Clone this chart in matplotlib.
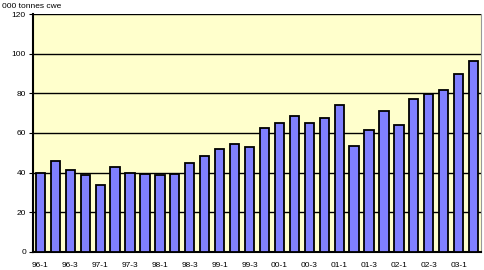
import matplotlib
matplotlib.use("Agg")
import matplotlib.pyplot as plt
import numpy as np

plt.rcParams['font.family'] = ['Liberation Sans', 'DejaVu Sans']

quarters = ["96-1", "96-2", "96-3", "96-4", "97-1", "97-2", "97-3", "97-4",
            "98-1", "98-2", "98-3", "98-4", "99-1", "99-2", "99-3", "99-4",
            "00-1", "00-2", "00-3", "00-4", "01-1", "01-2", "01-3", "01-4",
            "02-1", "02-2", "02-3", "02-4", "03-1", "03-2"]
values = [40, 46, 41.5, 38.6, 33.6, 42.8, 39.8, 39.1, 38.6, 39.1,
          45, 48.5, 52, 54.5, 53, 62.5, 65, 68.7, 65, 67.6,
          74, 53.6, 61.5, 71, 64, 77, 79.8, 81.8, 89.6, 96.4]

fig = plt.figure(figsize=(4.84, 2.70), dpi=100)
ax = fig.add_axes([0.068, 0.067, 0.926, 0.881])
ax.set_facecolor("#FFFFCC")

x = np.arange(len(values))
ax.set_axisbelow(True)
ax.yaxis.grid(True, color="black", linewidth=1)
ax.bar(x, values, width=0.62, color="#8080FF", edgecolor="black", linewidth=1.3, zorder=3)

ax.set_xlim(-0.5, len(values) - 0.5)
ax.set_ylim(0, 120)
ax.set_yticks(np.arange(0, 121, 20))
ax.set_xticks(x[::2])
ax.set_xticklabels(quarters[::2])
ax.tick_params(axis="both", labelsize=6, length=3, color="black", pad=2)
ax.tick_params(axis="x", length=0, pad=7)

for side in ["top", "right"]:
    ax.spines[side].set_visible(False)
ax.spines["left"].set_linewidth(1.5)
ax.spines["bottom"].set_linewidth(1.5)
ax.spines["right"].set_visible(True)
ax.spines["right"].set_color("#999999")
ax.spines["right"].set_linewidth(0.8)

fig.text(0.004, 0.975, "000 tonnes cwe", fontsize=6, va="center", ha="left")

fig.savefig("out.png", dpi=100)
